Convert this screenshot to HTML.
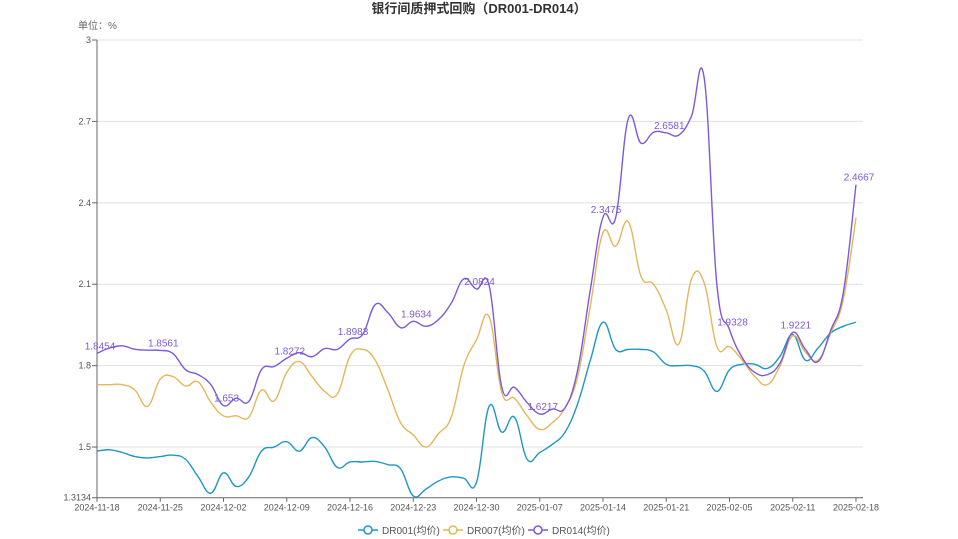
<!DOCTYPE html>
<html><head><meta charset="utf-8"><style>
html,body{margin:0;padding:0;background:#fff;}
svg{display:block;font-family:"Liberation Sans","Noto Sans CJK SC",sans-serif;}
</style></head><body>
<svg id="chart" width="958" height="539">
<text x="479" y="13" text-anchor="middle" font-size="13" font-weight="bold" fill="#333" font-family="'Liberation Sans','Noto Sans CJK SC',sans-serif">银行间质押式回购（DR001-DR014）</text>
<text x="78" y="29" font-size="10" fill="#666" font-family="'Liberation Sans','Noto Sans CJK SC',sans-serif">单位：%</text>
<g id="grid"></g><g id="axes"></g><g id="series"></g><g id="labels"></g>
<g id="legend"></g>
</svg>
<script>
const tickLabels=["2024-11-18","2024-11-25","2024-12-02","2024-12-09","2024-12-16","2024-12-23","2024-12-30","2025-01-07","2025-01-14","2025-01-21","2025-02-05","2025-02-11","2025-02-18"];
const tickIndex=[0,5,10,15,20,25,30,35,40,45,50,55,60];
const yTicks=[1.3134,1.5,1.8,2.1,2.4,2.7,3];
const seriesNames=["DR001(均价)","DR007(均价)","DR014(均价)"];
const dr001=[1.485,1.49,1.48,1.465,1.46,1.465,1.47,1.455,1.39,1.33,1.405,1.355,1.39,1.485,1.5,1.52,1.485,1.535,1.5,1.425,1.445,1.445,1.447,1.435,1.42,1.32,1.345,1.375,1.39,1.385,1.37,1.65,1.555,1.61,1.455,1.48,1.51,1.555,1.66,1.82,1.96,1.86,1.86,1.86,1.85,1.805,1.8,1.8,1.78,1.705,1.785,1.805,1.805,1.79,1.835,1.915,1.82,1.865,1.92,1.945,1.96];
const dr007=[1.73,1.73,1.73,1.71,1.65,1.75,1.76,1.725,1.74,1.665,1.615,1.615,1.61,1.71,1.67,1.775,1.815,1.76,1.705,1.695,1.835,1.86,1.82,1.71,1.59,1.545,1.5,1.55,1.61,1.8,1.895,1.98,1.7,1.68,1.615,1.565,1.59,1.645,1.76,2.02,2.29,2.24,2.33,2.13,2.1,2.005,1.88,2.12,2.105,1.87,1.87,1.82,1.76,1.73,1.8,1.91,1.85,1.82,1.92,2.045,2.345];
const dr014=[1.8454,1.865,1.873,1.86,1.857,1.8561,1.845,1.785,1.767,1.73,1.653,1.68,1.668,1.785,1.797,1.8272,1.848,1.833,1.863,1.86,1.8983,1.915,2.025,1.995,1.94,1.9634,1.945,1.97,2.03,2.12,2.0824,2.095,1.72,1.72,1.664,1.6217,1.64,1.645,1.785,2.08,2.3475,2.345,2.71,2.62,2.66,2.6581,2.65,2.72,2.86,2.1,1.9328,1.83,1.775,1.767,1.81,1.9221,1.86,1.815,1.93,2.07,2.4667];
const labelIndex=[0,5,10,15,20,25,30,35,40,45,50,55,60];
const colors=["#1f97c2","#e3b75a","#7d5ad9"];
const NS="http://www.w3.org/2000/svg";
const X0=97,X1=856,Y0=40,YB=497.7,VMIN=1.3134,VMAX=3,N=dr014.length;
const xs=i=>X0+i*(X1-X0)/(N-1);
const ys=v=>Y0+(VMAX-v)/(VMAX-VMIN)*(YB-Y0);
function mk(tag,attrs,parent){const e=document.createElementNS(NS,tag);for(const k in attrs)e.setAttribute(k,attrs[k]);parent.appendChild(e);return e;}
const grid=document.getElementById('grid'),axes=document.getElementById('axes');
yTicks.forEach(v=>{
  if(v>VMIN){const l=mk('line',{x1:X0,x2:863,y1:ys(v),y2:ys(v),stroke:'#e0e0e0','stroke-width':1},grid);
  
  }
  const t=mk('text',{x:91,y:ys(v)+3,'text-anchor':'end','font-size':9,fill:'#555'},axes);
  t.textContent=String(v);
  
  
  const tk=mk('line',{x1:92,x2:X0,y1:ys(v),y2:ys(v),stroke:'#666'},axes);
  
  
});
const ya=mk('line',{x1:X0,x2:X0,y1:Y0,y2:YB,stroke:'#666'},axes);


const xa=mk('line',{x1:X0,x2:863,y1:YB,y2:YB,stroke:'#666'},axes);


tickLabels.forEach((s,k)=>{
  const x=xs(tickIndex[k]);
  const tk=mk('line',{x1:x,x2:x,y1:YB,y2:YB+4,stroke:'#666'},axes);
  
  
  const t=mk('text',{x:x,y:YB+13,'text-anchor':'middle','font-size':9,fill:'#555'},axes);
  t.textContent=s;
  
  
});
function smoothPath(vals){
  const p=vals.map((v,i)=>[xs(i),ys(v)]);let d='M'+p[0][0]+','+p[0][1];
  const s=0.2;
  for(let i=0;i<p.length-1;i++){
    const p0=p[Math.max(i-1,0)],p1=p[i],p2=p[i+1],p3=p[Math.min(i+2,p.length-1)];
    const c1=[p1[0]+(p2[0]-p0[0])*s,p1[1]+(p2[1]-p0[1])*s];
    const c2=[p2[0]-(p3[0]-p1[0])*s,p2[1]-(p3[1]-p1[1])*s];
    d+=' C'+c1.join(',')+' '+c2.join(',')+' '+p2.join(',');
  }
  return d;
}
const sg=document.getElementById('series');
[dr001,dr007,dr014].forEach((vals,k)=>{
  const path=mk('path',{d:smoothPath(vals),fill:'none',stroke:colors[k],'stroke-width':1.4},sg);
  
  
});
const lg=document.getElementById('labels');
labelIndex.forEach(i=>{
  const t=mk('text',{x:xs(i)+3,y:ys(dr014[i])-4,'text-anchor':'middle','font-size':10,fill:'#7d5ad9'},lg);
  t.textContent=String(dr014[i]);
  
  
});
const leg=document.getElementById('legend');
const lx=[358,443,528];
seriesNames.forEach((n,k)=>{
  const g=mk('g',{},leg);
  
  
  mk('line',{x1:lx[k],x2:lx[k]+20,y1:530,y2:530,stroke:colors[k],'stroke-width':1.5},g);
  mk('circle',{cx:lx[k]+10,cy:530,r:4,fill:'#fff',stroke:colors[k],'stroke-width':1.5},g);
  const t=mk('text',{x:lx[k]+24,y:534,'font-size':10,fill:'#555'},g);
  t.textContent=n;
});
</script>
</body></html>
